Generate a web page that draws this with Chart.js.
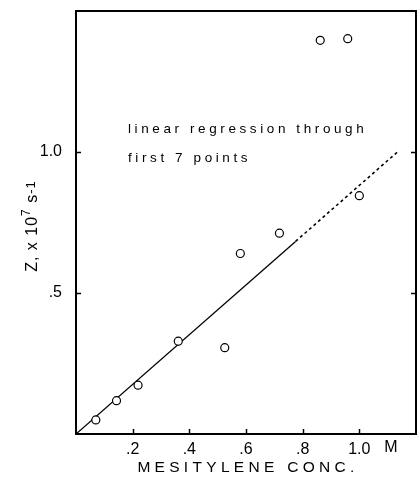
<!DOCTYPE html>
<html>
<head>
<meta charset="utf-8">
<script src="https://cdn.jsdelivr.net/npm/chart.js@4/dist/chart.umd.min.js"></script>
<style>
  html, body { margin: 0; padding: 0; background: #fff; }
  #wrap { width: 417px; height: 483px; }
</style>
</head>
<body>
<div id="wrap"><canvas id="chart" width="417" height="483"></canvas></div>
<script>
// mesitylene concentration (M) and Z (x 10^7 s^-1)
const concX = [0.070, 0.143, 0.219, 0.361, 0.525, 0.580, 0.718, 0.862, 0.959, 1.000];
const zVals = [0.050, 0.118, 0.173, 0.329, 0.306, 0.640, 0.712, 1.396, 1.402, 0.845];

// regression line through first 7 points: solid part, then dashed extension
const fitSolidX = [0, 0.775];
const fitSolidY = [0, 0.683];
const fitDashX = [0.775, 1.14];
const fitDashY = [0.683, 1.005];

const xTickVals = [0.2, 0.4, 0.6, 0.8, 1.0];
const xTickLabels = ['.2', '.4', '.6', '.8', '1.0'];
const yTickVals = [0.5, 1.0];
const yTickLabels = ['.5', '1.0'];

const FONT = '"Liberation Sans", Arial, sans-serif';

function pts(xs, ys) {
  return xs.map((x, i) => ({ x, y: ys[i] }));
}

// frame, inward tick marks, axis titles and the note
const decor = {
  id: 'decor',
  afterDraw(chart) {
    const { ctx, chartArea: a, scales: { x, y } } = chart;
    ctx.save();
    ctx.strokeStyle = '#000';
    ctx.lineWidth = 2;
    ctx.strokeRect(a.left, a.top, a.right - a.left, a.bottom - a.top);

    ctx.lineWidth = 1.5;
    ctx.beginPath();
    xTickVals.forEach(v => {
      const px = Math.round(x.getPixelForValue(v)) + 0.5;
      ctx.moveTo(px, a.bottom);
      ctx.lineTo(px, a.bottom - 5);
    });
    yTickVals.forEach(v => {
      const py = Math.round(y.getPixelForValue(v)) + 0.5;
      ctx.moveTo(a.left - 1, py);
      ctx.lineTo(a.left + 5, py);
      ctx.moveTo(a.right + 1, py);
      ctx.lineTo(a.right - 5, py);
    });
    ctx.stroke();

    ctx.fillStyle = '#000';
    ctx.textBaseline = 'middle';

    // unit next to the last x label
    ctx.font = '16px ' + FONT;
    ctx.textAlign = 'left';
    ctx.letterSpacing = '1px';
    ctx.fillText('M', x.getPixelForValue(1.0) + 25, 448);

    // x title
    ctx.font = '15.5px ' + FONT;
    ctx.letterSpacing = '4.3px';
    ctx.textAlign = 'center';
    ctx.fillText('MESITYLENE CONC.', 248, 468);

    // note
    ctx.font = '13.5px ' + FONT;
    ctx.letterSpacing = '3.6px';
    ctx.textAlign = 'left';
    ctx.fillText('linear regression through', 128, 129);
    ctx.fillText('first 7 points', 128, 158);
    ctx.letterSpacing = '0px';

    // y title, rotated, with superscripts
    ctx.translate(31, 226);
    ctx.rotate(-Math.PI / 2);
    ctx.textAlign = 'left';
    ctx.textBaseline = 'alphabetic';
    const parts = [
      ['Z, x 10', 16, 0],
      ['7', 12, -7],
      [' s', 16, 0],
      ['-1', 13, -2]
    ];
    ctx.letterSpacing = '1px';
    let total = 0;
    parts.forEach(p => { ctx.font = p[1] + 'px ' + FONT; total += ctx.measureText(p[0]).width; });
    let cx = -total / 2;
    parts.forEach(p => {
      ctx.font = p[1] + 'px ' + FONT;
      ctx.fillText(p[0], cx, 6 + p[2]);
      cx += ctx.measureText(p[0]).width;
    });
    ctx.restore();
  }
};

new Chart(document.getElementById('chart'), {
  type: 'scatter',
  data: {
    datasets: [
      {
        label: 'data',
        data: pts(concX, zVals),
        pointStyle: 'circle',
        pointRadius: 4,
        pointBackgroundColor: '#fff',
        pointBorderColor: '#000',
        pointBorderWidth: 1.2,
        order: 0
      },
      {
        label: 'fit',
        type: 'line',
        data: pts(fitSolidX, fitSolidY),
        borderColor: '#000',
        borderWidth: 1.3,
        pointRadius: 0,
        fill: false,
        order: 1
      },
      {
        label: 'fit ext',
        type: 'line',
        data: pts(fitDashX, fitDashY),
        borderColor: '#000',
        borderWidth: 1.6,
        borderDash: [3, 3],
        pointRadius: 0,
        fill: false,
        order: 2
      }
    ]
  },
  options: {
    responsive: false,
    animation: false,
    devicePixelRatio: 1,
    layout: { autoPadding: false, padding: { top: 11, right: 1, left: 0, bottom: 0 } },
    plugins: { legend: { display: false }, tooltip: { enabled: false } },
    scales: {
      x: {
        type: 'linear',
        min: 0,
        max: 1.2,
        afterBuildTicks: s => { s.ticks = xTickVals.map(v => ({ value: v })); },
        afterFit: s => { s.height = 49; s.paddingLeft = 0; s.paddingRight = 0; },
        ticks: {
          callback: v => xTickLabels[xTickVals.indexOf(v)] ?? '',
          color: '#000',
          font: { family: FONT, size: 16 },
          padding: 6,
          maxRotation: 0,
          autoSkip: false
        },
        grid: { display: false, drawTicks: false },
        border: { display: false }
      },
      y: {
        type: 'linear',
        min: 0,
        max: 1.5,
        afterBuildTicks: s => { s.ticks = yTickVals.map(v => ({ value: v })); },
        afterFit: s => { s.width = 76; s.paddingTop = 0; s.paddingBottom = 0; },
        ticks: {
          callback: v => yTickLabels[yTickVals.indexOf(v)] ?? '',
          color: '#000',
          font: { family: FONT, size: 16 },
          padding: 14,
          autoSkip: false
        },
        grid: { display: false, drawTicks: false },
        border: { display: false }
      }
    }
  },
  plugins: [decor]
});
</script>
</body>
</html>
